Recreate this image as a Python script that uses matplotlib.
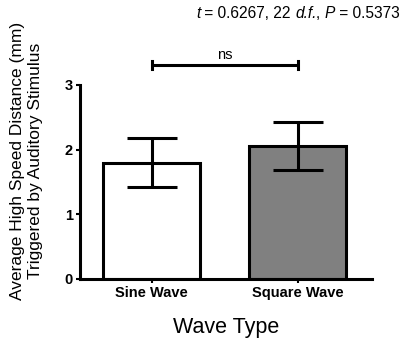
import matplotlib
matplotlib.use("Agg")
import matplotlib.pyplot as plt
from matplotlib.offsetbox import TextArea, HPacker, AnchoredOffsetbox

plt.rcParams['font.family'] = ['Liberation Sans', 'DejaVu Sans']

categories = ["Sine Wave", "Square Wave"]
means = [1.80, 2.06]
sem = [0.38, 0.37]
bar_colors = ["white", "#808080"]
y_ticks = [0, 1, 2, 3]
# statistics line: (text, italic?) pieces
stats_parts = [("t", True), (" = 0.6267, 22 ", False), ("d.f.", True),
               (", ", False), ("P", True), (" = 0.5373", False)]
sig_label = "ns"

W, H = 404, 338
fig = plt.figure(figsize=(W / 100, H / 100), dpi=100)
ax = fig.add_axes([0.198, 0.1746, 0.723, 0.574])

x = list(range(len(categories)))
lw = 2.2
ax.bar(x, means, width=0.66, color=bar_colors, edgecolor="black", linewidth=lw, zorder=2)
ax.errorbar(x, means, yerr=sem, fmt="none", ecolor="black", elinewidth=lw,
            capsize=18, capthick=lw, zorder=3)

ax.set_xlim(-0.49, 1.51)
ax.set_ylim(0, 3)
ax.set_yticks(y_ticks)
ax.set_xticks(x)
ax.set_xticklabels(categories, fontsize=10.5, fontweight="bold")
ax.set_yticklabels([str(v) for v in y_ticks], fontsize=10.5, fontweight="bold")
ax.tick_params(axis="both", width=1.5, length=3, direction="out", pad=2)

for s in ["top", "right"]:
    ax.spines[s].set_visible(False)
for s in ["left", "bottom"]:
    ax.spines[s].set_linewidth(lw)

ax.set_xlabel("Wave Type", fontsize=15.5, labelpad=12)
fig.text(27 / W, 1 - 161 / H,
         "Average High Speed Distance (mm)\nTriggered by Auditory Stimulus",
         rotation=90, ha="center", va="center", fontsize=12.5, linespacing=1.25,
         multialignment="center")

# significance bracket between the two groups
yb = 3.31
ax.plot([x[0], x[1]], [yb, yb], color="black", lw=lw, clip_on=False,
        solid_capstyle="butt")
for xi in x:
    ax.plot([xi, xi], [yb - 0.06, yb + 0.06], color="black", lw=lw, clip_on=False)
ax.text((x[0] + x[1]) / 2, yb + 0.05, sig_label, ha="center", va="bottom",
        fontsize=10.5, clip_on=False)

# t-test summary, top right
pieces = [TextArea(s, textprops=dict(fontsize=11.2,
                                     style="italic" if it else "normal"))
          for s, it in stats_parts]
row = HPacker(children=pieces, align="baseline", pad=0, sep=0)
box = AnchoredOffsetbox(loc="center right", child=row, pad=0, borderpad=0,
                        frameon=False, bbox_to_anchor=(400 / W, 1 - 14 / H),
                        bbox_transform=fig.transFigure)
fig.add_artist(box)

fig.savefig("out.png", dpi=100)
